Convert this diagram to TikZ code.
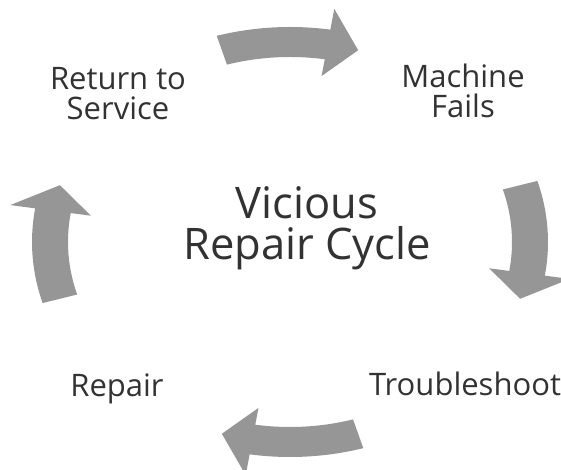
\documentclass[tikz,border=0pt]{standalone}
\usepackage{fontspec}
\setmainfont{Open Sans}
\definecolor{arrowgray}{RGB}{150,150,150}
\definecolor{textgray}{RGB}{50,50,50}
\tikzset{
  cyclearrow/.style={fill=arrowgray, draw=none},
  lbl/.style={text=textgray, font=\fontsize{31}{30}\selectfont, align=center, inner sep=0pt, anchor=base},
  title/.style={text=textgray, font=\fontsize{43.5}{41}\selectfont, align=center, inner sep=0pt, anchor=base}
}
% arrow along an elliptical ring, clockwise, centred on angle #1
\newcommand{\ringarrow}[1]{%
  \pgfmathsetmacro{\ta}{#1+16.5}%
  \pgfmathsetmacro{\hb}{#1-9}%
  \pgfmathsetmacro{\tp}{#1-16.5}%
  \fill[cyclearrow] (\ta:215pt) arc[start angle=\ta, end angle=\hb, radius=215pt]
    -- (\hb:236pt) -- (\tp:200pt) -- (\hb:168pt) -- (\hb:185pt)
    arc[start angle=\hb, end angle=\ta, radius=185pt] -- cycle;%
}
\begin{document}
\begin{tikzpicture}[x=1pt,y=1pt]
\useasboundingbox (0,0) rectangle (561,470);
\clip (0,0) rectangle (561,470);
\begin{scope}[shift={(290pt,228pt)}, xscale=1.2]
  \ringarrow{90}
  \ringarrow{0}
  \ringarrow{-90}
  \ringarrow{180}
\end{scope}
\node[lbl] (ret) at (118,350) {Return to\\Service};
\node[lbl] (mach) at (463,352) {Machine\\Fails};
\node[lbl] (rep) at (117,73) {Repair};
\node[lbl] (trb) at (465,74) {Troubleshoot};
\node[title] (vic) at (307,210) {Vicious\\Repair Cycle};
\end{tikzpicture}
\end{document}
